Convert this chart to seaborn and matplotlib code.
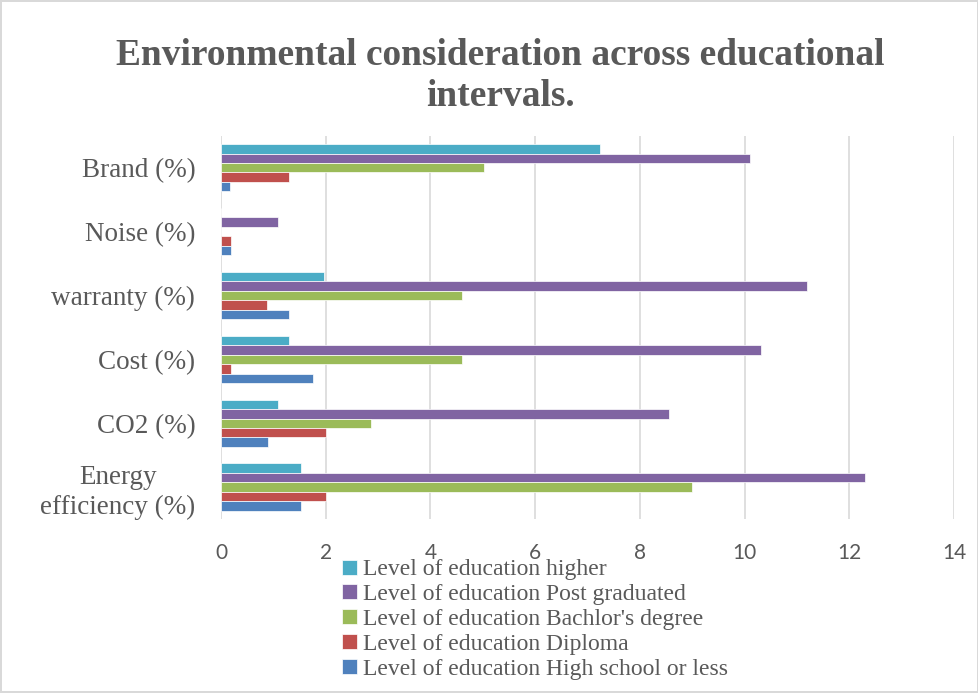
import pandas as pd
import seaborn as sns
import matplotlib.pyplot as plt

# Data
categories = ["Brand (%)", "Noise (%)", "warranty (%)", "Cost (%)", "CO2 (%)",
              "Energy\nefficiency (%)"]
levels = ["Level of education higher", "Level of education Post graduated",
          "Level of education Bachlor's degree", "Level of education Diploma",
          "Level of education High school or less"]

higher = [7.23, 0.0, 1.97, 1.30, 1.09, 1.52]
post_graduated = [10.1, 1.08, 11.2, 10.32, 8.56, 12.3]
bachelor = [5.03, 0.0, 4.61, 4.61, 2.87, 9.0]
diploma = [1.30, 0.2, 0.88, 0.2, 2.0, 2.0]
high_school = [0.18, 0.2, 1.30, 1.75, 0.89, 1.52]

colors = ["#4BACC6", "#8064A2", "#9BBB59", "#C0504D", "#4F81BD"]

series = [higher, post_graduated, bachelor, diploma, high_school]
rows = []
for level, vals in zip(levels, series):
    for cat, v in zip(categories, vals):
        rows.append({"category": cat, "level": level, "value": v})
df = pd.DataFrame(rows)

sns.set_style("white")
plt.rcParams["font.family"] = ["Liberation Serif", "DejaVu Serif"]

fig = plt.figure(figsize=(9.79, 6.93), dpi=100, edgecolor="#D9D9D9", linewidth=1.5)
ax = fig.add_axes([0.2257, 0.251, 0.7488, 0.553])

sns.barplot(data=df, x="value", y="category", hue="level", order=categories,
            hue_order=levels, palette=colors, saturation=1, orient="h",
            width=0.74, edgecolor="white", linewidth=0.5, ax=ax, legend=True)

ax.set_xlim(0, 14)
ax.set_xticks(range(0, 15, 2))
ax.set_ylim(5.5, -0.5)
ax.set_xlabel("")
ax.set_ylabel("")
ax.grid(axis="x", color="#D9D9D9", linewidth=1.2)
ax.set_axisbelow(True)
for s in ax.spines.values():
    s.set_visible(False)

ax.tick_params(axis="both", length=0)
ax.tick_params(axis="x", pad=17, labelsize=15, labelcolor="#595959")
ax.tick_params(axis="y", pad=18.5, labelsize=19.5, labelcolor="#595959")
for lab in ax.get_xticklabels():
    lab.set_family(["Lato", "DejaVu Sans"])
for lab in ax.get_yticklabels():
    lab.set_multialignment("center")
    lab.set_linespacing(1.25)

handles, labels = ax.get_legend_handles_labels()
ax.get_legend().remove()
leg = fig.legend(handles, labels, loc="upper left",
                 bbox_to_anchor=(333 / 979, 1 - 550 / 693), frameon=False,
                 fontsize=17, handlelength=0.6, handleheight=0.6,
                 handletextpad=0.25, labelspacing=0.16, borderaxespad=0)
for t in leg.get_texts():
    t.set_color("#595959")

fig.suptitle("Environmental consideration across educational\nintervals.",
             x=0.511, y=0.945, fontsize=26.9, fontweight="bold", color="#595959",
             linespacing=1.23)

fig.savefig("out.png", dpi=100)
